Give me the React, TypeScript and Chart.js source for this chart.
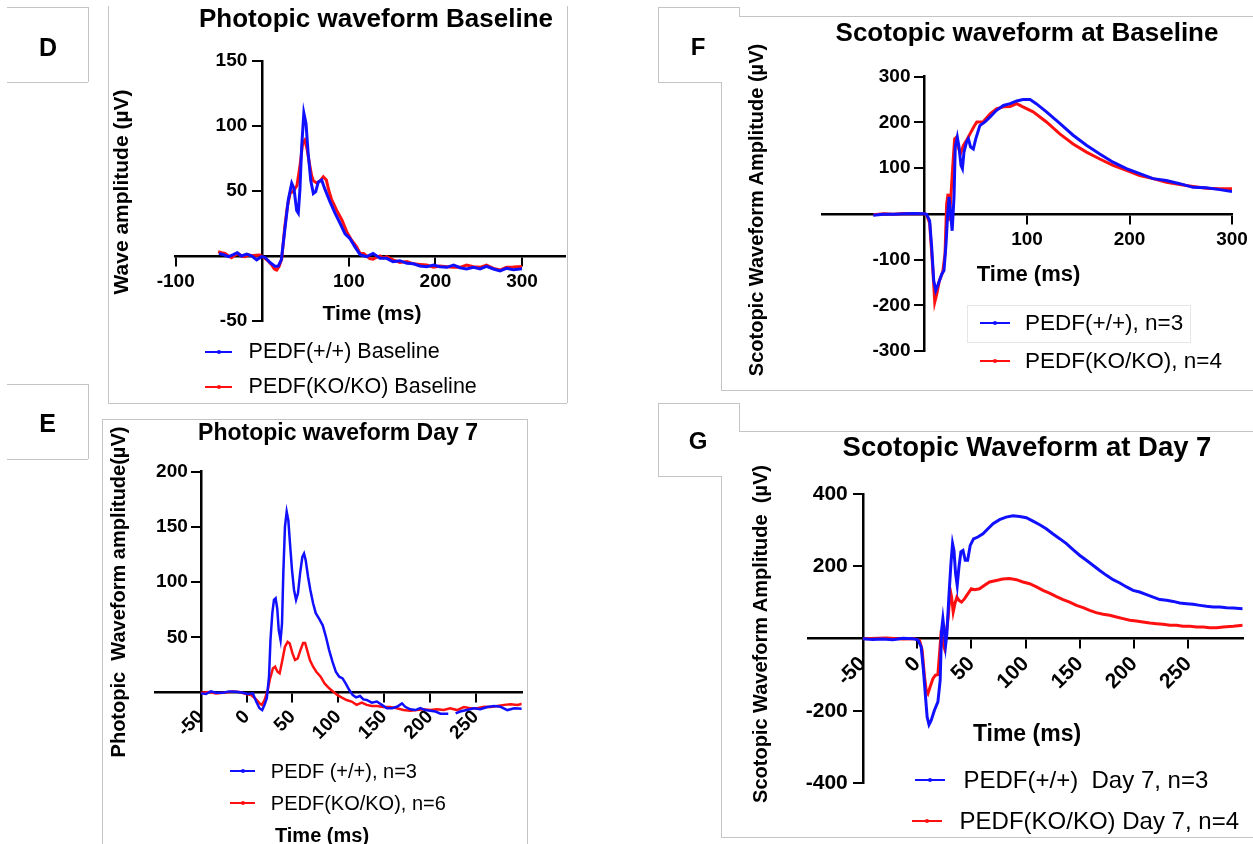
import React, { useEffect, useRef } from 'react';
import { Chart, registerables } from 'chart.js';

Chart.register(...registerables);

type Pt = [number, number | null];

const W = 1253;
const H = 844;
const BLUE = '#1010ff';
const RED = '#ff1010';
const FONT = '"Liberation Sans", Arial, Helvetica, sans-serif';

// ---------- Panel D : Photopic waveform Baseline ----------
const dXTicks = [-100, 100, 200, 300];
const dYTicks = [-50, 50, 100, 150];
const dWildType: Pt[] = [
  [-50, 2], [-45, 1], [-39, -0.5], [-33.5, 1], [-29, 2.5], [-24, 0], [-18, 1.5], [-12, 0], [-6.5, -3], [-1, -0.5],
  [3, -1], [9, -5], [15, -8], [18.5, -7.7], [22, -3], [26, 20], [30, 43], [34, 56], [36.6, 52], [39.7, 35],
  [41.6, 33], [43.5, 51], [45.5, 84], [48, 110], [50.5, 102], [53, 79], [56, 58], [59, 48], [61.7, 49.5], [64.7, 57],
  [68.6, 58.5], [72, 52], [78, 42], [84, 33], [90, 25], [95.6, 17], [101, 13.6], [107, 7], [113, 1], [120.6, -0.5],
  [128, 2], [136, -1.8], [143.7, -1.8], [151, -4.4], [159, -3.6], [167, -5.6], [174.6, -6], [182, -7.7], [190, -8.2], [198, -7],
  [205, -8.2], [213, -8.7], [221, -7], [228.5, -9], [236, -10], [244, -8.7], [251.6, -10], [259, -8], [267, -10], [274.6, -11.5],
  [282, -9.5], [290, -10.5], [300, -9.8],
];
const dKnockout: Pt[] = [
  [-51, 3.3], [-47, 2.5], [-43, 2], [-39, 0], [-35.5, -1.3], [-32, 0.5], [-28, 2], [-24, 0], [-20, -0.5], [-16, 0.8],
  [-12.3, 0.2], [-7, 0.5], [-2.7, 0.8], [3, -1.8], [7, -4], [11, -7], [14, -10], [16.6, -10.8], [19.5, -8], [22.5, -2],
  [26, 22.5], [29, 38], [32, 48], [35, 49.5], [38, 52], [40, 54], [43.5, 69], [46.6, 86.7], [49, 89], [51.5, 83],
  [54.5, 71], [57, 62], [59, 58], [63, 56], [67, 58], [70.5, 61], [74, 58.5], [77, 50], [80, 43.6], [86, 35],
  [92, 27.7], [97.5, 18.7], [103, 12.3], [109, 7], [113, 2], [117, 2], [120.6, 0], [124, -2], [128, -2.5], [132, -1],
  [136, 0], [140, -1.5], [143.7, -0.5], [151, -3], [159, -5], [167, -4.2], [174.6, -6], [182, -6.5], [190, -7], [198, -8.7],
  [205, -7.7], [213, -8.2], [221, -8.7], [228.5, -8.7], [236, -7], [244, -8.2], [251.6, -8.7], [259, -7], [267, -9.5], [274.6, -10.8],
  [282, -8.7], [290, -8.5], [300, -8],
];

// ---------- Panel E : Photopic waveform Day 7 ----------
const eXTicks = [-50, 0, 50, 100, 150, 200, 250];
const eYTicks = [50, 100, 150, 200];
const eWildType: Pt[] = [
  [-50, -0.6], [-44.5, -1.2], [-39, 1.2], [-33.5, 0], [-26, 0], [-19, 1.2], [-11.5, 0.9], [-4, 0], [1.3, -1.2], [6.7, -0.6],
  [10.4, -8], [14, -14], [17, -15.7], [19.5, -11], [22, -5], [24.4, 14.5], [26, 47.7], [28, 71.8], [29.8, 84], [31.6, 85.4],
  [33.4, 76], [35, 56.7], [37, 47.7], [38.6, 62.7], [40, 108], [41.8, 150], [43.7, 163.8], [45.5, 156], [47.3, 135], [49.5, 111],
  [51.7, 93], [53.9, 84], [56, 90], [58.3, 108], [60.8, 123], [62.6, 126], [64.4, 120], [67, 105], [69.5, 93], [72.5, 81],
  [75.4, 72], [79, 67], [83, 61], [86.5, 50.7], [90, 38.6], [93.7, 28], [97.3, 19], [101, 14.5], [104.7, 13], [108, 8.4],
  [112, 2.4], [115.6, -2], [119.3, -4.2], [123.7, -3], [127.4, -6], [131, -6.6], [136.5, -9], [142, -8], [147.5, -11], [153, -14],
  [158.6, -14], [164, -12.7], [169.5, -9.7], [173, -12.7], [178.5, -15], [184, -15.7], [189.5, -14], [195, -15.7], [200.4, -16.3], [206, -17],
  [211.5, -19], [217, -19], [220, -19], [224, null], [228, -18.7], [233, -17], [240, -15.7], [248, -14], [255, -15], [262.5, -13],
  [270, -12], [277, -12.7], [284.5, -15.7], [292, -14], [301, -14.5],
];
const eKnockout: Pt[] = [
  [-50, 0], [-40.6, 0.6], [-33.5, -0.6], [-26, 0], [-15, 1.2], [-8, 0.6], [-0.6, -1.2], [4.8, -2], [10.4, -6], [14, -9.6],
  [16.6, -11], [19.5, -6.6], [23, 2.4], [25.6, 13], [28.6, 22], [31, 23.5], [33.7, 19], [36, 17.5], [39, 29.6], [41.8, 41.6],
  [44.7, 46], [47, 44.6], [50, 35.6], [52.8, 29.6], [55.7, 31], [58.7, 38.6], [61.6, 45], [63.8, 45], [66, 38.6], [69, 29.6],
  [72.5, 23.5], [76, 19], [80.7, 14.5], [85, 8.4], [90, 4], [94.5, 1], [98.8, -2], [103.5, -4.2], [109, -6.6], [114.5, -8],
  [120, -11], [125.6, -9], [131, -11], [136.5, -12], [142, -12], [149, -13], [156.5, -13], [164, -14], [171, -15.7], [178.5, -16.3],
  [186, -15.7], [193, -15], [200.4, -15.7], [207.7, -15], [215, -15.7], [222, -14], [229.6, -15.7], [237, -13], [244, -14], [251.6, -14],
  [259, -12.7], [266, -13], [273.5, -12], [281, -11], [288, -10.5], [295.5, -11], [301, -10],
];

// ---------- Panel F : Scotopic waveform at Baseline ----------
const fXTicks = [100, 200, 300];
const fYTicks = [-300, -200, -100, 100, 200, 300];
const fWildType: Pt[] = [
  [-50, -3], [-40, -1], [-30, -1], [-20, 0], [-10, 1], [0, 0], [2, -1], [5, -15], [7, -73], [9, -146],
  [11, -168], [13.5, -153], [17, -131], [19, -124], [21, -66], [22.6, 0], [24, 37], [25.5, 0], [27, -37], [28.8, 37],
  [30, 146], [32, 168], [33.7, 146], [35.6, 106], [37, 99], [38.5, 135], [41, 157], [42.8, 164], [45, 146], [47.6, 142],
  [50, 164], [54, 193], [59, 201], [64, 212], [70, 226], [77, 237], [83.5, 241], [90, 247], [96, 250], [103, 250],
  [109, 241], [119, 223], [132, 198], [145, 172], [158, 150], [171, 131], [184, 113], [197, 99], [210, 88], [223, 77],
  [236, 73], [249, 66], [262, 58], [275, 57], [288, 53], [300, 49],
];
const fKnockout: Pt[] = [
  [-50, -2], [-40, 0], [-30, -1], [-20, 1], [-10, 0], [0, 0], [2, -2], [5, -20], [8, -117], [10, -193],
  [12, -175], [14.5, -146], [17.7, -128], [20, -88], [21.6, 22], [23, 44], [24, -15], [25.5, 29], [27.5, 102], [29.4, 164],
  [31.4, 168], [33, 146], [35, 131], [38, 150], [41, 161], [44.4, 175], [48, 190], [51, 201], [57, 201], [64, 219],
  [70.5, 230], [77, 234], [83.5, 235], [90, 241], [96, 234], [106, 223], [119, 201], [132, 175], [145, 153], [158, 135],
  [171, 120], [184, 106], [197, 95], [210, 84], [223, 77], [236, 69], [249, 64], [262, 60], [275, 56], [288, 55],
  [300, 55],
];

// ---------- Panel G : Scotopic Waveform at Day 7 ----------
const gXTicks = [-50, 0, 50, 100, 150, 200, 250];
const gYTicks = [-400, -200, 200, 400];
const gWildType: Pt[] = [
  [-50, 0], [-40.8, -2], [-31.5, -1], [-22.3, -3], [-13, 1], [-3.9, 0], [0.7, -3], [3.8, -23], [5.9, -87.5], [7.8, -161],
  [9.3, -217], [11, -238], [13, -226], [16, -198], [19.2, -175], [21.3, -115], [22.6, 23], [23.8, 55], [25, 23], [26.3, -18],
  [27.5, 14], [29.3, 115], [31.2, 207], [32.7, 263], [34, 244], [35.5, 180], [37, 147], [38.6, 198], [40.4, 240], [42.3, 244],
  [44.4, 217], [46.6, 217], [49, 258], [52, 276], [56, 281], [60.7, 290], [65.3, 304], [70, 318], [76, 329], [82, 336],
  [88.4, 340], [94.5, 338], [100.7, 334.6], [106.8, 325], [113, 315], [119, 304], [125, 290], [131.4, 276.5], [137.6, 262.7], [143.7, 246],
  [150, 230], [156, 216.6], [162, 203], [168, 189], [174.5, 175], [180.6, 163], [186.8, 154], [193, 143], [199, 133.6], [205, 129],
  [211.4, 121.7], [217.5, 115], [223.7, 108], [229.8, 106], [236, 103], [242, 98.6], [248.3, 96.8], [254.4, 95], [260.6, 92], [266.7, 89.4],
  [272.9, 87.6], [279, 87.6], [285, 85.7], [291.3, 84.8], [300, 83],
];
const gKnockout: Pt[] = [
  [-50, 0], [-28.5, 2], [-13, -1], [-2.3, 0], [2.3, -4.6], [4.7, -32], [6.9, -106], [8.4, -143], [10, -152], [12, -133.6],
  [14.6, -110.6], [17, -101], [19.2, -99.5], [20.7, -41.5], [22.3, 23], [23.8, -14], [25.3, -27.6], [26.9, 14], [28.7, 60], [30.6, 133.6],
  [31.8, 115], [33.3, 73.7], [34.9, 96.8], [36.7, 115], [38.6, 106], [41, 101], [43.8, 110.6], [46.9, 124.4], [50, 138], [53, 135.5],
  [57.6, 138], [62.2, 147.5], [66.8, 156.7], [73, 161], [79, 165], [85.3, 166], [91.5, 163], [97.6, 156.7], [103.7, 152], [110, 143],
  [116, 133.6], [122, 126], [128, 117], [134.5, 108], [140.6, 101], [146.8, 92], [153, 85.7], [159, 78.3], [165, 72], [171.4, 67.3],
  [177.5, 64.5], [183.7, 60], [189.8, 55.3], [196, 50.7], [202, 48.8], [208, 46], [214.5, 43.3], [220.6, 41.5], [226.7, 39.6], [233, 36.9],
  [239, 36.9], [245, 34], [251.4, 34], [257.5, 32.3], [263.6, 32.3], [269.8, 30.4], [276, 30.4], [282, 32.3], [291.3, 34], [300, 36.9],
];

interface Spec {
  area: [number, number, number, number];
  xRange: [number, number];
  yRange: [number, number];
  cross: number;
  xTicks: number[];
  yTicks: number[];
  rot: number;
  xFont: number;
  yFont: number;
  tick: number;
  xPad: number;
  yGap: number;
  lw: number;
  blue: Pt[];
  red: Pt[];
}

const specD: Spec = {
  area: [175.7, 61, 565.3, 321], xRange: [-100, 350], yRange: [-50, 150], cross: 0,
  xTicks: dXTicks, yTicks: dYTicks, rot: 0, xFont: 19, yFont: 19, tick: 9, xPad: 5, yGap: 15, lw: 3,
  blue: dWildType, red: dKnockout,
};
const specE: Spec = {
  area: [155, 471.7, 521.6, 731.4], xRange: [-100, 300], yRange: [-35, 200], cross: -50,
  xTicks: eXTicks, yTicks: eYTicks, rot: 45, xFont: 19, yFont: 19, tick: 9, xPad: 4, yGap: 13, lw: 2.5,
  blue: eWildType, red: eKnockout,
};
const specF: Spec = {
  area: [822, 76.7, 1232, 351], xRange: [-100, 300], yRange: [-300, 300], cross: 0,
  xTicks: fXTicks, yTicks: fYTicks, rot: 0, xFont: 19, yFont: 19, tick: 9, xPad: 6, yGap: 14, lw: 3,
  blue: fWildType, red: fKnockout,
};
const specG: Spec = {
  area: [808.5, 494, 1242.7, 783.3], xRange: [-100, 300], yRange: [-400, 400], cross: -50,
  xTicks: gXTicks, yTicks: gYTicks, rot: 45, xFont: 21, yFont: 21, tick: 9, xPad: 4, yGap: 15, lw: 3,
  blue: gWildType, red: gKnockout,
};

function buildConfig(s: Spec): any {
  const [left, top, right, bottom] = s.area;
  const toXY = (arr: Pt[]) => arr.map(([x, y]) => ({ x, y }));
  const zeroPad = (sc: any) => {
    sc.paddingLeft = 0;
    sc.paddingRight = 0;
    sc.paddingTop = 0;
    sc.paddingBottom = 0;
  };
  const gridOpts = {
    display: true,
    drawOnChartArea: false,
    drawTicks: true,
    tickLength: s.tick,
    tickWidth: 2,
    tickColor: '#000',
    color: '#000',
    lineWidth: 2,
  };
  return {
    type: 'line',
    data: {
      datasets: [
        {
          data: toXY(s.blue), borderColor: BLUE, backgroundColor: BLUE, borderWidth: s.lw,
          pointRadius: 0, tension: 0, spanGaps: false,
        },
        {
          data: toXY(s.red), borderColor: RED, backgroundColor: RED, borderWidth: s.lw,
          pointRadius: 0, tension: 0, spanGaps: false,
        },
      ],
    },
    options: {
      responsive: false,
      animation: false,
      devicePixelRatio: 1,
      events: [],
      layout: { padding: { left, top, right: W - right, bottom: H - bottom } },
      plugins: { legend: { display: false }, tooltip: { enabled: false }, title: { display: false } },
      scales: {
        x: {
          type: 'linear',
          min: s.xRange[0],
          max: s.xRange[1],
          position: { y: 0 },
          afterBuildTicks: (sc: any) => { sc.ticks = s.xTicks.map((v) => ({ value: v })); },
          afterFit: (sc: any) => { sc.height = 0; zeroPad(sc); },
          grid: gridOpts,
          border: { display: true, color: '#000', width: 2.5 },
          ticks: {
            color: '#000', autoSkip: false, padding: s.xPad, maxRotation: s.rot, minRotation: s.rot,
            font: { family: FONT, size: s.xFont, weight: 'bold' },
            callback: (v: any) => String(v),
          },
        },
        y: {
          type: 'linear',
          min: s.yRange[0],
          max: s.yRange[1],
          position: { x: s.cross },
          afterBuildTicks: (sc: any) => { sc.ticks = s.yTicks.map((v) => ({ value: v })); },
          afterFit: (sc: any) => {
            sc.width = 0;
            zeroPad(sc);
            if (!sc.__gapApplied) {
              sc.__gapApplied = true;
              const orig = sc._computeLabelItems;
              sc._computeLabelItems = function (ca: any) {
                const items = orig.call(this, ca);
                for (const it of items) {
                  const t = it.options.translation;
                  it.options.translation = [t[0] - s.yGap, t[1]];
                }
                return items;
              };
            }
          },
          grid: gridOpts,
          border: { display: true, color: '#000', width: 2.5 },
          ticks: {
            color: '#000', autoSkip: false, padding: 5,
            font: { family: FONT, size: s.yFont, weight: 'bold' },
            callback: (v: any) => String(v),
          },
        },
      },
    },
  };
}

function WaveChart({ spec }: { spec: Spec }) {
  const ref = useRef<HTMLCanvasElement>(null);
  useEffect(() => {
    const canvas = ref.current;
    if (!canvas) return;
    const chart = new Chart(canvas, buildConfig(spec));
    return () => chart.destroy();
  }, [spec]);
  return (
    <canvas
      ref={ref}
      width={W}
      height={H}
      style={{ position: 'absolute', left: 0, top: 0, width: W, height: H, pointerEvents: 'none' }}
    />
  );
}

function Txt(props: { x: number; y: number; size: number; bold?: boolean; rot?: boolean; left?: boolean; children: any }) {
  const { x, y, size, bold = true, rot = false, left = false, children } = props;
  const transform = left
    ? 'translate(0,-50%)'
    : rot
      ? 'translate(-50%,-50%) rotate(-90deg)'
      : 'translate(-50%,-50%)';
  return (
    <div
      style={{
        position: 'absolute', left: x, top: y, transform, fontFamily: FONT, fontSize: size,
        fontWeight: bold ? 700 : 400, whiteSpace: 'pre', lineHeight: 1, color: '#000',
      }}
    >
      {children}
    </div>
  );
}

function Seg(props: { x1: number; y1: number; x2: number; y2: number; c?: string }) {
  const { x1, y1, x2, y2, c = '#c4c4c4' } = props;
  const horiz = y1 === y2;
  return (
    <div
      style={{
        position: 'absolute', left: Math.min(x1, x2), top: Math.min(y1, y2),
        width: horiz ? Math.abs(x2 - x1) : 1, height: horiz ? 1 : Math.abs(y2 - y1), background: c,
      }}
    />
  );
}

function Marker(props: { x1: number; x2: number; y: number; c: string }) {
  const { x1, x2, y, c } = props;
  return (
    <>
      <div style={{ position: 'absolute', left: x1, top: y - 1, width: x2 - x1, height: 2, background: c }} />
      <div style={{ position: 'absolute', left: (x1 + x2) / 2 - 2, top: y - 2, width: 4, height: 4, borderRadius: 2, background: c }} />
    </>
  );
}

export default function App() {
  return (
    <div style={{ position: 'absolute', left: 0, top: 0, width: W, height: H, background: '#fff', overflow: 'hidden' }}>
      {/* ---- frames ---- */}
      <Seg x1={6.7} y1={7.3} x2={88.3} y2={7.3} />
      <Seg x1={88.3} y1={7.3} x2={88.3} y2={81.7} />
      <Seg x1={6.7} y1={81.7} x2={88.3} y2={81.7} />
      <Seg x1={108.3} y1={5.7} x2={108.3} y2={403.3} />
      <Seg x1={108.3} y1={403.3} x2={567} y2={403.3} />
      <Seg x1={567} y1={5.7} x2={567} y2={403.3} />
      <Seg x1={6.7} y1={384} x2={88.3} y2={384} />
      <Seg x1={88.3} y1={384} x2={88.3} y2={459} />
      <Seg x1={6.7} y1={459} x2={88.3} y2={459} />
      <Seg x1={101.7} y1={419.3} x2={527} y2={419.3} />
      <Seg x1={101.7} y1={419.3} x2={101.7} y2={844} />
      <Seg x1={527} y1={419.3} x2={527} y2={844} />
      <Seg x1={657.7} y1={7.3} x2={739} y2={7.3} />
      <Seg x1={739} y1={7.3} x2={739} y2={16} />
      <Seg x1={739} y1={16} x2={1253} y2={16} />
      <Seg x1={657.7} y1={7.3} x2={657.7} y2={81.7} />
      <Seg x1={657.7} y1={81.7} x2={721} y2={81.7} />
      <Seg x1={721} y1={81.7} x2={721} y2={390} />
      <Seg x1={721} y1={390} x2={1253} y2={390} />
      <div style={{ position: 'absolute', left: 967, top: 305, width: 224, height: 38, border: '1px solid #e6e6e6', boxSizing: 'border-box' }} />
      <Seg x1={657.7} y1={402.7} x2={739} y2={402.7} />
      <Seg x1={739} y1={402.7} x2={739} y2={431} />
      <Seg x1={739} y1={431} x2={1253} y2={431} />
      <Seg x1={657.7} y1={402.7} x2={657.7} y2={476} />
      <Seg x1={657.7} y1={476} x2={721} y2={476} />
      <Seg x1={721} y1={476} x2={721} y2={836.7} />
      <Seg x1={721} y1={836.7} x2={1253} y2={836.7} />

      {/* ---- charts ---- */}
      <WaveChart spec={specD} />
      <WaveChart spec={specE} />
      <WaveChart spec={specF} />
      <WaveChart spec={specG} />

      {/* ---- panel D text ---- */}
      <Txt x={48} y={46.7} size={25}>D</Txt>
      <Txt x={376} y={18} size={26}>Photopic waveform Baseline</Txt>
      <Txt x={120} y={192} size={21} rot>Wave amplitude (µV)</Txt>
      <Txt x={372} y={312} size={21}>Time (ms)</Txt>
      <Marker x1={205} x2={232} y={352} c={BLUE} />
      <Txt x={248.6} y={352} size={21.5} bold={false} left>PEDF(+/+) Baseline</Txt>
      <Marker x1={205} x2={232} y={387} c={RED} />
      <Txt x={248.6} y={387} size={21.5} bold={false} left>PEDF(KO/KO) Baseline</Txt>

      {/* ---- panel E text ---- */}
      <Txt x={47.7} y={423.3} size={25}>E</Txt>
      <Txt x={338} y={432} size={23}>Photopic waveform Day 7</Txt>
      <Txt x={117.6} y={592} size={20} rot>{'Photopic  Waveform amplitude(µV)'}</Txt>
      <Marker x1={230} x2={255} y={770.7} c={BLUE} />
      <Txt x={270.8} y={770.7} size={20} bold={false} left>PEDF (+/+), n=3</Txt>
      <Marker x1={230} x2={255} y={803} c={RED} />
      <Txt x={270.8} y={803} size={20} bold={false} left>PEDF(KO/KO), n=6</Txt>
      <Txt x={322} y={835} size={20}>Time (ms)</Txt>

      {/* ---- panel F text ---- */}
      <Txt x={698} y={46.7} size={24}>F</Txt>
      <Txt x={1027} y={32.3} size={26}>Scotopic waveform at Baseline</Txt>
      <Txt x={755.8} y={210} size={20} rot>Scotopic Waveform Amplitude (µV)</Txt>
      <Txt x={1028.5} y={274} size={22}>Time (ms)</Txt>
      <Marker x1={979.6} x2={1009.6} y={323.3} c={BLUE} />
      <Txt x={1025} y={323.3} size={22.5} bold={false} left>PEDF(+/+), n=3</Txt>
      <Marker x1={979.6} x2={1009.6} y={361} c={RED} />
      <Txt x={1025} y={361} size={22.5} bold={false} left>PEDF(KO/KO), n=4</Txt>

      {/* ---- panel G text ---- */}
      <Txt x={698} y={440.7} size={24}>G</Txt>
      <Txt x={1027} y={446.7} size={27.5}>Scotopic Waveform at Day 7</Txt>
      <Txt x={760.4} y={634} size={20} rot>{'Scotopic Waveform Amplitude  (µV)'}</Txt>
      <Txt x={1027} y={733.3} size={23}>Time (ms)</Txt>
      <Marker x1={915} x2={945} y={780} c={BLUE} />
      <Txt x={963.5} y={780} size={24} bold={false} left>{'PEDF(+/+)  Day 7, n=3'}</Txt>
      <Marker x1={911.5} x2={942} y={820.7} c={RED} />
      <Txt x={959.6} y={820.7} size={24} bold={false} left>PEDF(KO/KO) Day 7, n=4</Txt>
    </div>
  );
}
